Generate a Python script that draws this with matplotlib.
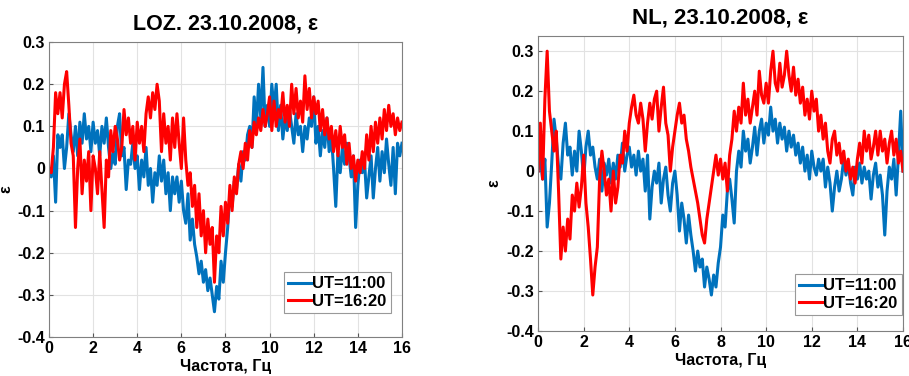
import numpy as np
import matplotlib
matplotlib.use("Agg")
from matplotlib import pyplot as plt

plt.rcParams['font.family'] = ['Liberation Sans', 'DejaVu Sans']
plt.rcParams['font.weight'] = 'bold'

# frequency grid, 0.1 Hz step
freq = np.round(np.arange(0, 16.01, 0.1), 1)

# LOZ station, values
loz_1100 = [0.0, -0.02, 0.03, -0.08, 0.08, 0.05, 0.08, 0.0, 0.05, 0.13,
            0.08, 0.04, 0.1, 0.03, 0.11, 0.06, 0.13, 0.07, 0.1, 0.04,
            0.11, 0.06, 0.09, 0.03, 0.1, 0.06, 0.12, 0.05, 0.0, 0.04,
            0.01, 0.1, 0.13, 0.03, 0.05, -0.05, 0.02, 0.01, 0.06, 0.0,
            0.03, -0.05, 0.02, -0.02, 0.05, -0.04, 0.0, -0.08, -0.01, -0.04,
            0.03, -0.03, 0.02, -0.06, -0.01, -0.1, -0.02, -0.06, -0.02, -0.08,
            -0.03, -0.1, -0.13, -0.06, -0.17, -0.12, -0.18, -0.21, -0.25, -0.22,
            -0.27, -0.24, -0.29, -0.26, -0.3, -0.34, -0.28, -0.31, -0.22, -0.27,
            -0.2, -0.14, -0.06, -0.09, -0.03, -0.05, 0.01, -0.03, 0.04, 0.02,
            0.08, 0.1, 0.05, 0.17, 0.1, 0.2, 0.12, 0.24, 0.1, 0.15,
            0.1, 0.2, 0.14, 0.2, 0.09, 0.15, 0.07, 0.12, 0.09, 0.14,
            0.1, 0.06, 0.13, 0.08, 0.1, 0.04, 0.1, 0.07, 0.12, 0.1,
            0.17, 0.06, 0.1, 0.03, 0.09, 0.05, 0.12, 0.04, 0.08, 0.0,
            -0.09, 0.04, -0.01, 0.05, 0.01, 0.06, 0.03, -0.02, 0.03, -0.14,
            -0.04, 0.02, -0.01, 0.02, -0.07, -0.02, 0.03, -0.07, 0.0, 0.05,
            -0.03, 0.04, -0.01, 0.07, 0.01, -0.04, 0.05, -0.06, 0.06, 0.03,
            0.06]
loz_1620 = [0.0, -0.01, 0.05, 0.18, 0.13, 0.18, 0.12, 0.2, 0.23, 0.15,
            0.06, 0.03, -0.14, 0.0, 0.07, -0.06, 0.02, -0.03, 0.04, -0.1,
            0.03, 0.0, -0.06, 0.04, -0.05, -0.14, 0.02, -0.02, 0.09, 0.04,
            0.1, 0.07, 0.02, 0.05, 0.14, 0.08, 0.12, 0.06, 0.1, 0.02,
            0.11, 0.06, 0.1, 0.04, 0.13, 0.17, 0.12, 0.18, 0.14, 0.2,
            0.16, 0.04, 0.13, 0.06, 0.1, 0.02, 0.12, 0.05, 0.13, 0.06,
            0.0, 0.12, 0.02, -0.04, -0.01, -0.09, -0.04, -0.14, -0.06, -0.16,
            -0.1, -0.2, -0.12, -0.18, -0.14, -0.27, -0.16, -0.2, -0.09, -0.16,
            -0.08, -0.13, -0.04, -0.1, -0.02, -0.06, 0.01, 0.04, 0.0, 0.06,
            0.02, 0.09, 0.05, 0.11, 0.08, 0.12, 0.09, 0.14, 0.1, 0.13,
            0.17, 0.09, 0.16, 0.1, 0.14, 0.12, 0.18, 0.11, 0.15, 0.1,
            0.2, 0.13, 0.19, 0.12, 0.16, 0.11, 0.22, 0.14, 0.19, 0.12,
            0.17, 0.13, 0.16, 0.09, 0.14, 0.08, 0.12, 0.07, 0.1, 0.04,
            0.09, 0.03, 0.1, 0.05, 0.08, 0.01, 0.06, 0.0, 0.03, -0.03,
            0.02, -0.01, 0.04, 0.0, 0.08, 0.02, 0.1, 0.04, 0.11, 0.06,
            0.12, 0.07, 0.14, 0.09, 0.15, 0.1, 0.13, 0.08, 0.12, 0.09,
            0.11]

# NL station
nl_1100 = [0.0, 0.03, -0.02, 0.03, -0.14, -0.08, 0.02, 0.13, 0.08, 0.01,
           -0.02, 0.07, 0.12, 0.04, 0.06, -0.01, 0.05, 0.0, 0.1, 0.05,
           -0.02, 0.06, 0.1, 0.04, 0.06, 0.01, -0.02, 0.03, -0.05, 0.02,
           -0.01, 0.03, -0.03, 0.02, -0.02, 0.04, 0.01, 0.07, 0.0, 0.04,
           0.06, 0.01, 0.04, -0.01, 0.05, 0.0, 0.03, -0.05, 0.04, -0.12,
           -0.04, 0.0, -0.03, 0.02, -0.08, -0.02, 0.01, -0.06, -0.1, -0.03,
           0.0, -0.06, -0.15, -0.08, -0.12, -0.18, -0.11, -0.16, -0.2, -0.25,
           -0.2, -0.24, -0.22, -0.29, -0.24, -0.27, -0.31, -0.26, -0.29, -0.23,
           -0.19, -0.11, -0.14, -0.05, -0.02, -0.07, -0.13, 0.0, 0.05, 0.01,
           0.1, 0.05, 0.08, 0.02, 0.06, 0.11, 0.04, 0.1, 0.13, 0.07,
           0.12, 0.09, 0.16, 0.1, 0.13, 0.07, 0.12, 0.08, 0.11, 0.05,
           0.1, 0.06, 0.09, 0.04, 0.07, 0.02, 0.06, 0.0, 0.04, -0.02,
           0.05, 0.01, -0.01, 0.03, 0.0, 0.03, -0.04, 0.01, -0.03, -0.1,
           -0.04, 0.0, -0.05, -0.02, 0.03, -0.01, 0.02, -0.03, -0.06, 0.01,
           -0.02, 0.02, -0.03, 0.01, -0.02, 0.0, -0.07, -0.01, 0.02, -0.04,
           -0.01, -0.06, -0.16, -0.05, 0.01, -0.02, 0.03, -0.06, 0.04, 0.15,
           0.0]
nl_1620 = [0.0, 0.12, -0.02, 0.18, 0.3, 0.15, 0.1, 0.05, 0.1, -0.05,
           -0.22, -0.14, -0.2, -0.12, -0.17, -0.06, -0.1, -0.03, -0.09, -0.04,
           0.04, -0.08, -0.14, -0.22, -0.31, -0.24, -0.19, -0.02, 0.05, 0.0,
           -0.06, -0.02, -0.1, 0.0, -0.08, -0.04, 0.04, 0.02, 0.1, 0.05,
           0.12, 0.16, 0.19, 0.14, 0.12, 0.17, 0.13, 0.05, 0.12, 0.17,
           0.13, 0.18, 0.2, 0.1, 0.16, 0.21, 0.12, 0.09, 0.0, 0.06,
           0.1, 0.14, 0.17, 0.12, 0.14, 0.08, 0.05, 0.01, -0.02, -0.05,
           -0.08, -0.12, -0.16, -0.18, -0.12, -0.08, -0.04, 0.0, 0.04, -0.01,
           0.03, -0.02, 0.02, -0.05, 0.04, 0.08, 0.15, 0.1, 0.16, 0.12,
           0.22, 0.14, 0.18, 0.12, 0.16, 0.2, 0.14, 0.25, 0.19, 0.17,
           0.22, 0.17, 0.25, 0.3, 0.22, 0.2, 0.27, 0.21, 0.24, 0.3,
           0.24, 0.2, 0.26, 0.19, 0.23, 0.17, 0.21, 0.14, 0.18, 0.13,
           0.2, 0.15, 0.18, 0.1, 0.14, 0.08, 0.12, 0.05, 0.02, 0.08,
           0.1, 0.04, 0.07, 0.02, 0.05, 0.0, 0.03, -0.02, 0.01, -0.03,
           0.03, 0.07, 0.02, 0.1, 0.05, 0.09, 0.03, 0.06, 0.1, 0.04,
           0.1, 0.05, 0.08, 0.02, 0.07, 0.1, 0.04, 0.08, 0.02, 0.05,
           0.0]

labels = ['UT=11:00', 'UT=16:20']
blue = '#0072BD'
red = '#FF0000'

fig = plt.figure(figsize=(9.09, 3.76), dpi=100)
ax1 = fig.add_axes([0.0539, 0.1037, 0.3883, 0.7843])
ax2 = fig.add_axes([0.5919, 0.1197, 0.4015, 0.7846])

# axis, series, title, title size, y limits, legend anchor
panels = [
    (ax1, loz_1100, loz_1620, 'LOZ. 23.10.2008, ε', 15.5, (-0.4, 0.3), (0.968, 0.081)),
    (ax2, nl_1100, nl_1620, 'NL, 23.10.2008, ε', 16, (-0.4, 0.338), (0.997, 0.054)),
]

for ax, y1, y2, title, tsize, ylim, anchor in panels:
    ax.plot(freq, y1, color=blue, lw=2.2, label=labels[0])
    ax.plot(freq, y2, color=red, lw=2.2, label=labels[1])
    ax.set_xlim(0, 16)
    ax.set_ylim(*ylim)
    ax.set_xticks(range(0, 17, 2))
    ax.set_yticks(np.round(np.arange(-0.4, 0.31, 0.1), 1))
    ax.set_yticklabels(['-0.4', '-0.3', '-0.2', '-0.1', '0', '0.1', '0.2', '0.3'])
    ax.grid(True, color='#e2e2e2', lw=0.8)
    ax.tick_params(labelsize=11.5, length=3, direction='in', color='#555555', pad=3)
    for s in ax.spines.values():
        s.set_color('#808080')
    ax.set_title(title, fontsize=tsize, fontweight='bold', pad=9)
    ax.set_xlabel('Частота, Гц', fontsize=11.5, fontweight='bold', labelpad=2)
    ax.set_ylabel('ε', fontsize=11.5, fontweight='bold')
    ax.yaxis.set_label_coords(-0.1, 0.5)
    leg = ax.legend(loc='lower right', bbox_to_anchor=anchor, borderaxespad=0,
                    fontsize=12, fancybox=False, handlelength=1.4,
                    handletextpad=0.05, borderpad=0.25, labelspacing=0.15,
                    framealpha=1)
    leg.get_frame().set_edgecolor('#999999')
    leg.get_frame().set_linewidth(0.8)

fig.savefig('out.png', dpi=100)
